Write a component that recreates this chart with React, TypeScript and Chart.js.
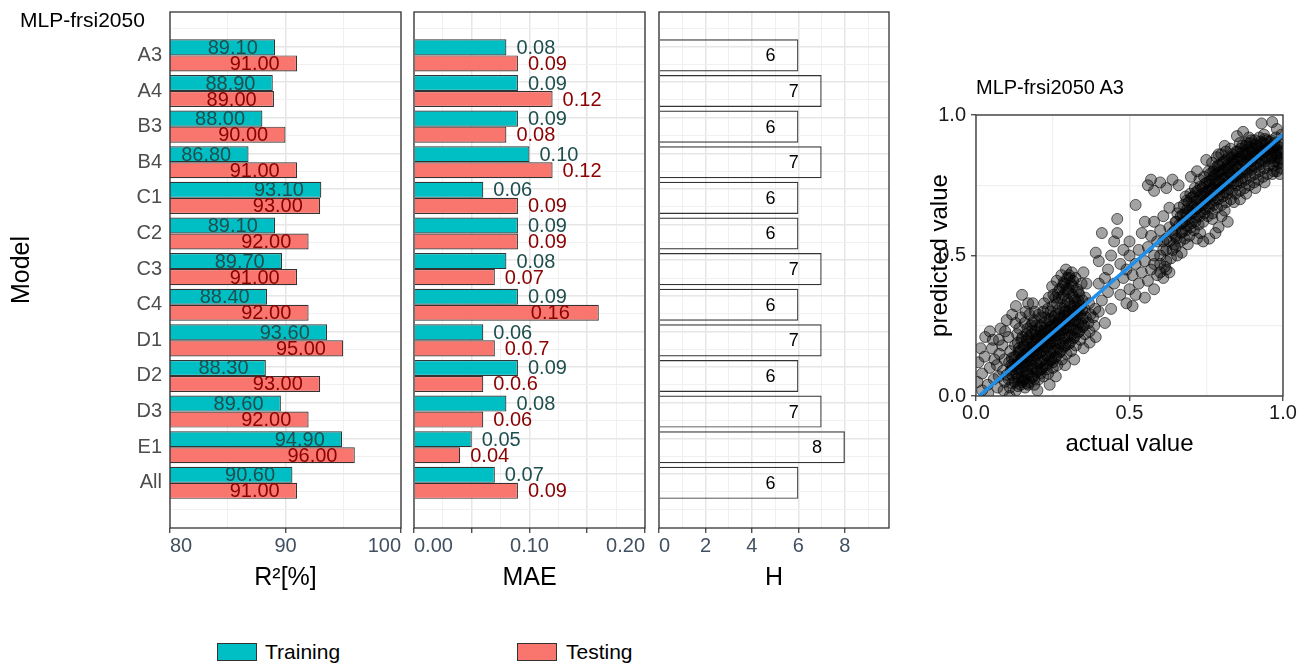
import React, { useEffect, useRef } from "react";
import { Chart, registerables } from "chart.js";

Chart.register(...registerables);

const FONT = "'Liberation Sans', Arial, sans-serif";
Chart.defaults.font.family = FONT;

// ---------------- data ----------------
const models = ["A3", "A4", "B3", "B4", "C1", "C2", "C3", "C4", "D1", "D2", "D3", "E1", "All"];
const r2Training = [89.1, 88.9, 88.0, 86.8, 93.1, 89.1, 89.7, 88.4, 93.6, 88.3, 89.6, 94.9, 90.6];
const r2Testing = [91.0, 89.0, 90.0, 91.0, 93.0, 92.0, 91.0, 92.0, 95.0, 93.0, 92.0, 96.0, 91.0];
const maeTraining = [0.08, 0.09, 0.09, 0.1, 0.06, 0.09, 0.08, 0.09, 0.06, 0.09, 0.08, 0.05, 0.07];
const maeTesting = [0.09, 0.12, 0.08, 0.12, 0.09, 0.09, 0.07, 0.16, 0.07, 0.06, 0.06, 0.04, 0.09];
const maeTrainingLabels = ["0.08", "0.09", "0.09", "0.10", "0.06", "0.09", "0.08", "0.09", "0.06", "0.09", "0.08", "0.05", "0.07"];
const maeTestingLabels = ["0.09", "0.12", "0.08", "0.12", "0.09", "0.09", "0.07", "0.16", "0.0.7", "0.0.6", "0.06", "0.04", "0.09"];
const hValues = [6, 7, 6, 7, 6, 6, 7, 6, 7, 6, 7, 8, 6];

const r2TickValues = [80, 90, 100];
const r2TickLabels = ["80", "90", "100"];
const maeTickValues = [0, 0.1, 0.2];
const maeTickLabels = ["0.00", "0.10", "0.20"];
const hTickValues = [0, 2, 4, 6, 8];
const hTickLabels = ["0", "2", "4", "6", "8"];

const fitActual = [0.01, 1.0];
const fitPredicted = [0.0, 0.93];

// scatter: [actual, predicted]
const lowerCluster = [
  [0.070, 0.03], [0.074, 0.07], [0.068, 0.11], [0.076, 0.15],
  [0.090, 0.02], [0.094, 0.05], [0.088, 0.09], [0.093, 0.13], [0.086, 0.18],
  [0.110, 0.03], [0.106, 0.06], [0.113, 0.09], [0.108, 0.12], [0.112, 0.16], [0.105, 0.21],
  [0.130, 0.02], [0.126, 0.05], [0.133, 0.08], [0.128, 0.11], [0.131, 0.14], [0.127, 0.18], [0.134, 0.22], [0.129, 0.26],
  [0.145, 0.04], [0.149, 0.07], [0.142, 0.10], [0.147, 0.13], [0.143, 0.16], [0.148, 0.20], [0.141, 0.24], [0.146, 0.28],
  [0.160, 0.03], [0.156, 0.06], [0.163, 0.09], [0.158, 0.12], [0.161, 0.15], [0.157, 0.18], [0.164, 0.22], [0.159, 0.26], [0.162, 0.30],
  [0.175, 0.05], [0.171, 0.08], [0.178, 0.11], [0.173, 0.14], [0.176, 0.17], [0.172, 0.21], [0.179, 0.25], [0.174, 0.29],
  [0.190, 0.04], [0.186, 0.07], [0.193, 0.10], [0.188, 0.13], [0.191, 0.16], [0.187, 0.19], [0.194, 0.23], [0.189, 0.27], [0.192, 0.30],
  [0.205, 0.06], [0.201, 0.09], [0.208, 0.12], [0.203, 0.15], [0.206, 0.18], [0.202, 0.21], [0.209, 0.25], [0.204, 0.29],
  [0.220, 0.07], [0.216, 0.10], [0.223, 0.13], [0.218, 0.16], [0.221, 0.19], [0.217, 0.22], [0.224, 0.26], [0.219, 0.30], [0.222, 0.33],
  [0.235, 0.08], [0.231, 0.11], [0.238, 0.14], [0.233, 0.17], [0.236, 0.20], [0.232, 0.23], [0.239, 0.27], [0.234, 0.31], [0.237, 0.35],
  [0.250, 0.10], [0.246, 0.13], [0.253, 0.16], [0.248, 0.19], [0.251, 0.22], [0.247, 0.25], [0.254, 0.28], [0.249, 0.32], [0.252, 0.36], [0.248, 0.39],
  [0.265, 0.11], [0.261, 0.14], [0.268, 0.17], [0.263, 0.20], [0.266, 0.23], [0.262, 0.26], [0.269, 0.29], [0.264, 0.33], [0.267, 0.37], [0.263, 0.41],
  [0.280, 0.13], [0.276, 0.16], [0.283, 0.19], [0.278, 0.22], [0.281, 0.25], [0.277, 0.28], [0.284, 0.31], [0.279, 0.35], [0.282, 0.39], [0.278, 0.43],
  [0.295, 0.15], [0.291, 0.18], [0.298, 0.21], [0.293, 0.24], [0.296, 0.27], [0.292, 0.30], [0.299, 0.34], [0.294, 0.38], [0.297, 0.42], [0.293, 0.45],
  [0.310, 0.16], [0.306, 0.19], [0.313, 0.22], [0.308, 0.25], [0.311, 0.28], [0.307, 0.32], [0.314, 0.36], [0.309, 0.40], [0.312, 0.44],
  [0.325, 0.18], [0.321, 0.21], [0.328, 0.24], [0.323, 0.27], [0.326, 0.30], [0.322, 0.34], [0.329, 0.38], [0.324, 0.42],
  [0.340, 0.20], [0.336, 0.23], [0.343, 0.26], [0.338, 0.29], [0.341, 0.32], [0.337, 0.36], [0.344, 0.40],
  [0.355, 0.22], [0.351, 0.25], [0.358, 0.28], [0.353, 0.31], [0.356, 0.35],
  [0.370, 0.23], [0.366, 0.26], [0.373, 0.29], [0.368, 0.33],
  [0.385, 0.25], [0.381, 0.28], [0.388, 0.31],
  [0.100, 0.075], [0.118, 0.095], [0.136, 0.115], [0.154, 0.105], [0.152, 0.135], [0.170, 0.125], [0.168, 0.155],
  [0.185, 0.145], [0.183, 0.175], [0.200, 0.165], [0.198, 0.195], [0.215, 0.175], [0.213, 0.205], [0.230, 0.19],
  [0.228, 0.22], [0.245, 0.205], [0.243, 0.235], [0.260, 0.215], [0.258, 0.245], [0.275, 0.235], [0.273, 0.265],
  [0.290, 0.255], [0.288, 0.285], [0.305, 0.27], [0.303, 0.30], [0.320, 0.29], [0.318, 0.32], [0.335, 0.31],
  [0.333, 0.34], [0.300, 0.37], [0.315, 0.39], [0.305, 0.42], [0.285, 0.405], [0.270, 0.35], [0.290, 0.32],
  [0.165, 0.20], [0.180, 0.23], [0.195, 0.21], [0.210, 0.23], [0.225, 0.24], [0.140, 0.17], [0.125, 0.14],
  [0.115, 0.11], [0.135, 0.06], [0.150, 0.05], [0.170, 0.04], [0.190, 0.06], [0.210, 0.08], [0.230, 0.095], [0.250, 0.12],
];

const lowerCore = [
  [0.118, 0.045], [0.118, 0.075], [0.120, 0.105], [0.117, 0.135],
  [0.137, 0.035], [0.138, 0.065], [0.136, 0.095], [0.137, 0.125], [0.139, 0.155], [0.136, 0.19],
  [0.152, 0.055], [0.153, 0.085], [0.151, 0.115], [0.152, 0.145], [0.154, 0.175], [0.151, 0.21],
  [0.167, 0.045], [0.168, 0.075], [0.166, 0.105], [0.167, 0.135], [0.169, 0.165], [0.166, 0.195], [0.168, 0.24],
  [0.182, 0.065], [0.183, 0.095], [0.181, 0.125], [0.182, 0.155], [0.184, 0.185], [0.181, 0.22], [0.183, 0.26],
  [0.197, 0.085], [0.198, 0.115], [0.196, 0.145], [0.197, 0.175], [0.199, 0.205], [0.196, 0.25],
  [0.212, 0.095], [0.213, 0.125], [0.211, 0.155], [0.212, 0.185], [0.214, 0.215], [0.211, 0.245], [0.213, 0.28],
  [0.227, 0.115], [0.228, 0.145], [0.226, 0.175], [0.227, 0.205], [0.229, 0.235], [0.226, 0.28],
  [0.242, 0.125], [0.243, 0.155], [0.241, 0.185], [0.242, 0.215], [0.244, 0.245], [0.241, 0.275], [0.243, 0.30],
  [0.257, 0.135], [0.258, 0.165], [0.256, 0.195], [0.257, 0.225], [0.259, 0.255], [0.256, 0.285], [0.258, 0.35],
  [0.272, 0.155], [0.273, 0.185], [0.271, 0.215], [0.272, 0.245], [0.274, 0.275], [0.271, 0.31], [0.273, 0.38],
  [0.287, 0.175], [0.288, 0.205], [0.286, 0.235], [0.287, 0.265], [0.289, 0.30], [0.286, 0.36], [0.288, 0.40],
  [0.302, 0.185], [0.303, 0.215], [0.301, 0.245], [0.302, 0.285], [0.304, 0.33], [0.301, 0.38], [0.303, 0.43],
  [0.317, 0.205], [0.318, 0.235], [0.316, 0.265], [0.317, 0.30], [0.319, 0.35], [0.316, 0.41],
  [0.332, 0.225], [0.333, 0.255], [0.331, 0.285], [0.332, 0.32], [0.334, 0.37],
  [0.347, 0.245], [0.348, 0.275], [0.346, 0.305], [0.347, 0.34],
];

const edgePoints = [
  [0.005, 0.05], [0.008, 0.12], [0.015, 0.17], [0.020, 0.08], [0.028, 0.14], [0.030, 0.21], [0.038, 0.04],
  [0.045, 0.10], [0.045, 0.23], [0.052, 0.17], [0.058, 0.06], [0.060, 0.13], [0.055, 0.20], [0.075, 0.20],
  [0.080, 0.24], [0.095, 0.23], [0.100, 0.27], [0.118, 0.29], [0.130, 0.32], [0.150, 0.36], [0.170, 0.33],
  [0.185, 0.33], [0.020, 0.02], [0.040, 0.01], [0.110, 0.00], [0.200, 0.02], [0.240, 0.04], [0.260, 0.07],
  [0.290, 0.11], [0.320, 0.13], [0.350, 0.17], [0.370, 0.19], [0.390, 0.21], [0.400, 0.30], [0.410, 0.34],
  [0.420, 0.26], [0.430, 0.37], [0.440, 0.31], [0.400, 0.40], [0.420, 0.42], [0.360, 0.40], [0.350, 0.44],
];

const middlePoints = [
  [0.40, 0.48], [0.39, 0.51], [0.41, 0.58], [0.43, 0.45], [0.44, 0.50], [0.45, 0.40], [0.45, 0.55], [0.46, 0.58],
  [0.46, 0.63], [0.47, 0.47], [0.47, 0.36], [0.48, 0.42], [0.48, 0.52], [0.49, 0.33], [0.49, 0.45], [0.50, 0.38],
  [0.50, 0.50], [0.50, 0.55], [0.51, 0.32], [0.51, 0.43], [0.52, 0.47], [0.52, 0.68], [0.52, 0.36], [0.53, 0.40],
  [0.53, 0.52], [0.54, 0.44], [0.54, 0.58], [0.55, 0.35], [0.55, 0.48], [0.55, 0.62], [0.56, 0.41], [0.56, 0.53],
  [0.56, 0.75], [0.57, 0.45], [0.57, 0.57], [0.58, 0.38], [0.58, 0.50], [0.58, 0.62], [0.58, 0.73], [0.59, 0.43],
  [0.59, 0.55], [0.60, 0.47], [0.60, 0.59], [0.60, 0.76], [0.61, 0.42], [0.61, 0.52], [0.61, 0.64], [0.62, 0.48],
  [0.62, 0.56], [0.62, 0.74], [0.63, 0.44], [0.63, 0.60], [0.63, 0.67], [0.64, 0.52], [0.64, 0.77], [0.65, 0.57],
  [0.65, 0.62], [0.66, 0.75], [0.57, 0.77], [0.58, 0.47], [0.60, 0.50], [0.61, 0.55], [0.62, 0.52], [0.63, 0.55],
  [0.64, 0.58], [0.635, 0.49], [0.645, 0.54], [0.655, 0.50], [0.62, 0.45], [0.60, 0.44], [0.615, 0.46],
];

const upperCluster = [
  [0.650, 0.53], [0.654, 0.56], [0.648, 0.59], [0.652, 0.62], [0.656, 0.65],
  [0.665, 0.55], [0.669, 0.58], [0.663, 0.61], [0.667, 0.64], [0.662, 0.67],
  [0.680, 0.56], [0.684, 0.59], [0.678, 0.62], [0.682, 0.65], [0.677, 0.68], [0.683, 0.71],
  [0.695, 0.57], [0.699, 0.60], [0.693, 0.63], [0.697, 0.66], [0.692, 0.69], [0.698, 0.72],
  [0.710, 0.59], [0.714, 0.62], [0.708, 0.65], [0.712, 0.68], [0.707, 0.71], [0.713, 0.74],
  [0.725, 0.61], [0.729, 0.64], [0.723, 0.67], [0.727, 0.70], [0.722, 0.73], [0.728, 0.77],
  [0.740, 0.62], [0.744, 0.65], [0.738, 0.68], [0.742, 0.71], [0.737, 0.74], [0.743, 0.78],
  [0.755, 0.64], [0.759, 0.67], [0.753, 0.70], [0.757, 0.73], [0.752, 0.76], [0.758, 0.80],
  [0.770, 0.65], [0.774, 0.68], [0.768, 0.71], [0.772, 0.74], [0.767, 0.77], [0.773, 0.80], [0.769, 0.83],
  [0.785, 0.67], [0.789, 0.70], [0.783, 0.73], [0.787, 0.76], [0.782, 0.79], [0.788, 0.82], [0.784, 0.85],
  [0.800, 0.68], [0.804, 0.71], [0.798, 0.74], [0.802, 0.77], [0.797, 0.80], [0.803, 0.83], [0.799, 0.86],
  [0.815, 0.69], [0.819, 0.72], [0.813, 0.75], [0.817, 0.78], [0.812, 0.81], [0.818, 0.84], [0.814, 0.87],
  [0.830, 0.70], [0.834, 0.73], [0.828, 0.76], [0.832, 0.79], [0.827, 0.82], [0.833, 0.85], [0.829, 0.88],
  [0.845, 0.72], [0.849, 0.75], [0.843, 0.78], [0.847, 0.81], [0.842, 0.84], [0.848, 0.87],
  [0.860, 0.73], [0.864, 0.76], [0.858, 0.79], [0.862, 0.82], [0.857, 0.85], [0.863, 0.88], [0.859, 0.90],
  [0.875, 0.74], [0.879, 0.77], [0.873, 0.80], [0.877, 0.83], [0.872, 0.86], [0.878, 0.89],
  [0.890, 0.75], [0.894, 0.78], [0.888, 0.81], [0.892, 0.84], [0.887, 0.87], [0.893, 0.90], [0.889, 0.92],
  [0.905, 0.76], [0.909, 0.79], [0.903, 0.82], [0.907, 0.85], [0.902, 0.88], [0.908, 0.91],
  [0.920, 0.77], [0.924, 0.80], [0.918, 0.83], [0.922, 0.86], [0.917, 0.89], [0.923, 0.92],
  [0.935, 0.78], [0.939, 0.81], [0.933, 0.84], [0.937, 0.87], [0.932, 0.90], [0.938, 0.93],
  [0.950, 0.79], [0.954, 0.82], [0.948, 0.85], [0.952, 0.88], [0.947, 0.91],
  [0.965, 0.79], [0.969, 0.82], [0.963, 0.85], [0.967, 0.88], [0.962, 0.91],
  [0.980, 0.80], [0.984, 0.83], [0.978, 0.86], [0.982, 0.89], [0.977, 0.92],
  [0.995, 0.81], [0.991, 0.84], [0.996, 0.87], [0.992, 0.90],
  [0.672, 0.615], [0.687, 0.64], [0.702, 0.65], [0.717, 0.665], [0.732, 0.68], [0.747, 0.695], [0.762, 0.71],
  [0.777, 0.725], [0.792, 0.735], [0.807, 0.75], [0.822, 0.765], [0.837, 0.78], [0.852, 0.79], [0.867, 0.805],
  [0.882, 0.82], [0.897, 0.835], [0.912, 0.845], [0.927, 0.86], [0.942, 0.875], [0.957, 0.885], [0.972, 0.90],
  [0.987, 0.875], [0.740, 0.72], [0.760, 0.75], [0.780, 0.77], [0.800, 0.79], [0.820, 0.81], [0.840, 0.83],
  [0.860, 0.845], [0.880, 0.86], [0.900, 0.87], [0.920, 0.88], [0.940, 0.85], [0.960, 0.86], [0.980, 0.85],
  [0.990, 0.83], [0.970, 0.80],
  [0.930, 0.97], [0.965, 0.975], [0.870, 0.94], [0.850, 0.925], [0.790, 0.86], [0.810, 0.89], [0.750, 0.84],
  [0.700, 0.78], [0.720, 0.80], [0.980, 0.95], [0.995, 0.93], [0.840, 0.69], [0.860, 0.70], [0.880, 0.72],
  [0.810, 0.66], [0.770, 0.63], [0.730, 0.58], [0.690, 0.54], [0.670, 0.51], [0.910, 0.74], [0.940, 0.76],
  [0.990, 0.79], [0.800, 0.64], [0.760, 0.56], [0.740, 0.55], [0.780, 0.58], [0.720, 0.56], [0.820, 0.62], [0.790, 0.60],
];

const upperCore = [
  [0.672, 0.585], [0.673, 0.645],
  [0.687, 0.605], [0.688, 0.665], [0.686, 0.695],
  [0.702, 0.615], [0.703, 0.675], [0.701, 0.705],
  [0.717, 0.635], [0.718, 0.695], [0.716, 0.725],
  [0.732, 0.655], [0.733, 0.715], [0.731, 0.745],
  [0.747, 0.665], [0.748, 0.725], [0.746, 0.755],
  [0.762, 0.685], [0.763, 0.735], [0.761, 0.765], [0.762, 0.79],
  [0.777, 0.695], [0.778, 0.755], [0.776, 0.785], [0.777, 0.81],
  [0.792, 0.715], [0.793, 0.765], [0.791, 0.795], [0.792, 0.82],
  [0.807, 0.725], [0.808, 0.775], [0.806, 0.805], [0.807, 0.835],
  [0.822, 0.735], [0.823, 0.795], [0.821, 0.825], [0.822, 0.85],
  [0.837, 0.755], [0.838, 0.805], [0.836, 0.835], [0.837, 0.86],
  [0.852, 0.765], [0.853, 0.815], [0.851, 0.845], [0.852, 0.87],
  [0.867, 0.775], [0.868, 0.835], [0.866, 0.865], [0.867, 0.89],
  [0.882, 0.795], [0.883, 0.845], [0.881, 0.875], [0.882, 0.90],
  [0.897, 0.805], [0.898, 0.855], [0.896, 0.885], [0.897, 0.91],
  [0.912, 0.815], [0.913, 0.865], [0.911, 0.895],
  [0.927, 0.825], [0.928, 0.875], [0.926, 0.905],
  [0.942, 0.835], [0.943, 0.895], [0.941, 0.915],
  [0.957, 0.845], [0.958, 0.875], [0.956, 0.905],
  [0.972, 0.835], [0.973, 0.865], [0.971, 0.885],
  [0.990, 0.845], [0.989, 0.865], [0.991, 0.885],
];

// ---------------- styling ----------------
const TRAIN_FILL = "#00BFC4";
const TEST_FILL = "#F8766D";
const TRAIN_TEXT = "#1F4E4E";
const TEST_TEXT = "#8B0000";
const BAR_EDGE = "#333333";
const GRID_MAJOR = "#E6E6E6";
const GRID_MINOR = "#F0F0F0";
const AXIS_TICK_TEXT = "#405060";

const isMajorOf = (step: number) => (v: number) => Math.abs(v / step - Math.round(v / step)) < 1e-6;

const panelBorder = {
  id: "panelBorder",
  afterDatasetsDraw(chart: any) {
    const { ctx, chartArea: a } = chart;
    ctx.save();
    ctx.strokeStyle = "#333333";
    ctx.lineWidth = 1.3;
    ctx.strokeRect(a.left, a.top, a.right - a.left, a.bottom - a.top);
    ctx.restore();
  },
};

function edgeTickLabels(values: number[], labels: string[]) {
  return {
    id: "edgeTickLabels",
    afterDraw(chart: any) {
      const { ctx, chartArea: a } = chart;
      const xs = chart.scales.x;
      ctx.save();
      ctx.font = `20px ${FONT}`;
      ctx.fillStyle = AXIS_TICK_TEXT;
      ctx.textBaseline = "middle";
      values.forEach((v, i) => {
        const px = xs.getPixelForValue(v);
        const w = ctx.measureText(labels[i]).width;
        let align = "center";
        if (px - w / 2 < a.left - 0.5) align = "left";
        else if (px + w / 2 > a.right + 0.5) align = "right";
        ctx.textAlign = align;
        ctx.fillText(labels[i], px, a.bottom + 18);
      });
      ctx.restore();
    },
  };
}

const zeroPad = (s: any) => {
  s.paddingLeft = 0;
  s.paddingRight = 0;
  s.paddingTop = 0;
  s.paddingBottom = 0;
};

const categoryGridValues = Array.from({ length: models.length * 2 + 1 }, (_, i) => -0.5 + i * 0.5);

function modelAxis(showLabels: boolean) {
  return {
    type: "linear",
    reverse: true,
    min: -0.95,
    max: 13,
    afterBuildTicks: (s: any) => {
      s.ticks = categoryGridValues.map((v) => ({ value: v }));
    },
    afterFit: (s: any) => {
      s.width = showLabels ? 170 : 0;
      zeroPad(s);
    },
    ticks: {
      display: showLabels,
      autoSkip: false,
      padding: 8,
      color: "#4D4D4D",
      font: { size: 20, family: FONT },
      callback: (v: number) => (Number.isInteger(v) && models[v] ? models[v] : ""),
    },
    grid: {
      drawTicks: false,
      color: (c: any) => (Number.isInteger(c.tick?.value) ? GRID_MAJOR : GRID_MINOR),
      lineWidth: (c: any) => (Number.isInteger(c.tick?.value) ? 1.5 : 1),
    },
    border: { display: false },
    title: {
      display: showLabels,
      text: "Model",
      color: "#000000",
      font: { size: 25, family: FONT },
      padding: { top: 7, bottom: 0 },
    },
  };
}

function valueAxis(min: number, max: number, gridValues: number[], majorStep: number, title: string) {
  const isMajor = isMajorOf(majorStep);
  return {
    type: "linear",
    min,
    max,
    afterBuildTicks: (s: any) => {
      s.ticks = gridValues.map((v) => ({ value: v }));
    },
    afterFit: (s: any) => {
      s.height = 72;
      zeroPad(s);
    },
    ticks: { display: false },
    grid: {
      color: (c: any) => (isMajor(c.tick?.value ?? 0) ? GRID_MAJOR : GRID_MINOR),
      lineWidth: (c: any) => (isMajor(c.tick?.value ?? 0) ? 1.5 : 1),
      tickColor: (c: any) => (isMajor(c.tick?.value ?? 0) ? "#333333" : "rgba(0,0,0,0)"),
      tickLength: 5,
      tickWidth: 1.2,
    },
    border: { display: false },
    title: {
      display: true,
      text: title,
      color: "#000000",
      font: { size: 25, family: FONT },
      padding: { top: 0, bottom: 7 },
    },
  };
}

const basePlugins = { legend: { display: false }, tooltip: { enabled: false } };

// the model axis carries grid ticks every half category, so Chart.js measures
// slot width on 0.5 units; 1.8 of that slot equals 90% of one category
const BAR_GROUP_SHARE = 1.8;

function r2Config() {
  const labels = {
    id: "r2Labels",
    afterDatasetsDraw(chart: any) {
      const { ctx } = chart;
      const xs = chart.scales.x;
      ctx.save();
      ctx.font = `20px ${FONT}`;
      ctx.textAlign = "right";
      ctx.textBaseline = "middle";
      [r2Training, r2Testing].forEach((vals, di) => {
        ctx.fillStyle = di === 0 ? TRAIN_TEXT : TEST_TEXT;
        chart.getDatasetMeta(di).data.forEach((bar: any, j: number) => {
          ctx.fillText(vals[j].toFixed(2), xs.getPixelForValue(vals[j] - 1.5), bar.y + 1);
        });
      });
      ctx.restore();
    },
  };
  return {
    type: "bar",
    data: {
      datasets: [
        { label: "Training", data: r2Training.map((v, i) => ({ x: v, y: i })), backgroundColor: TRAIN_FILL, borderColor: BAR_EDGE, borderWidth: 1.2 },
        { label: "Testing", data: r2Testing.map((v, i) => ({ x: v, y: i })), backgroundColor: TEST_FILL, borderColor: BAR_EDGE, borderWidth: 1.2 },
      ],
    },
    options: {
      indexAxis: "y",
      animation: false,
      responsive: true,
      maintainAspectRatio: false,
      events: [],
      categoryPercentage: BAR_GROUP_SHARE,
      barPercentage: 1.0,
      layout: { padding: { top: 12, right: 4, left: 0, bottom: 0 } },
      scales: {
        x: valueAxis(80, 100, [80, 85, 90, 95, 100], 10, "R²[%]"),
        y: modelAxis(true),
      },
      plugins: basePlugins,
    },
    plugins: [panelBorder, labels, edgeTickLabels(r2TickValues, r2TickLabels)],
  };
}

function maeConfig() {
  const labels = {
    id: "maeLabels",
    afterDatasetsDraw(chart: any) {
      const { ctx, chartArea: a } = chart;
      ctx.save();
      ctx.font = `20px ${FONT}`;
      ctx.textBaseline = "middle";
      [maeTrainingLabels, maeTestingLabels].forEach((texts, di) => {
        ctx.fillStyle = di === 0 ? TRAIN_TEXT : TEST_TEXT;
        chart.getDatasetMeta(di).data.forEach((bar: any, j: number) => {
          const w = ctx.measureText(texts[j]).width;
          if (bar.x + 10 + w > a.right) {
            ctx.textAlign = "right";
            ctx.fillText(texts[j], bar.x - 29, bar.y + 1);
          } else {
            ctx.textAlign = "left";
            ctx.fillText(texts[j], bar.x + 10, bar.y + 1);
          }
        });
      });
      ctx.restore();
    },
  };
  return {
    type: "bar",
    data: {
      datasets: [
        { label: "Training", data: maeTraining.map((v, i) => ({ x: v, y: i })), backgroundColor: TRAIN_FILL, borderColor: BAR_EDGE, borderWidth: 1.2 },
        { label: "Testing", data: maeTesting.map((v, i) => ({ x: v, y: i })), backgroundColor: TEST_FILL, borderColor: BAR_EDGE, borderWidth: 1.2 },
      ],
    },
    options: {
      indexAxis: "y",
      animation: false,
      responsive: true,
      maintainAspectRatio: false,
      events: [],
      categoryPercentage: BAR_GROUP_SHARE,
      barPercentage: 1.0,
      layout: { padding: { top: 12, right: 5, left: 9, bottom: 0 } },
      scales: {
        x: valueAxis(0, 0.2, [0, 0.025, 0.05, 0.075, 0.1, 0.125, 0.15, 0.175, 0.2], 0.05, "MAE"),
        y: modelAxis(false),
      },
      plugins: basePlugins,
    },
    plugins: [panelBorder, labels, edgeTickLabels(maeTickValues, maeTickLabels)],
  };
}

function hConfig() {
  const labels = {
    id: "hLabels",
    afterDatasetsDraw(chart: any) {
      const { ctx } = chart;
      const xs = chart.scales.x;
      ctx.save();
      ctx.font = `18px ${FONT}`;
      ctx.textAlign = "center";
      ctx.textBaseline = "middle";
      ctx.fillStyle = "#000000";
      chart.getDatasetMeta(0).data.forEach((bar: any, j: number) => {
        ctx.fillText(String(hValues[j]), xs.getPixelForValue(hValues[j] - 1.2), bar.y + 1);
      });
      ctx.restore();
    },
  };
  return {
    type: "bar",
    data: {
      datasets: [
        { label: "H", data: hValues.map((v, i) => ({ x: v, y: i })), backgroundColor: "rgba(0,0,0,0)", borderColor: BAR_EDGE, borderWidth: 1.2 },
      ],
    },
    options: {
      indexAxis: "y",
      animation: false,
      responsive: true,
      maintainAspectRatio: false,
      events: [],
      categoryPercentage: BAR_GROUP_SHARE,
      barPercentage: 1.0,
      layout: { padding: { top: 12, right: 11, left: 9, bottom: 0 } },
      scales: {
        x: valueAxis(0, 9.9, [0, 1, 2, 3, 4, 5, 6, 7, 8, 9], 2, "H"),
        y: modelAxis(false),
      },
      plugins: basePlugins,
    },
    plugins: [panelBorder, labels, edgeTickLabels(hTickValues, hTickLabels)],
  };
}

function scatterAxis(axis: "x" | "y", title: string) {
  const isMajor = isMajorOf(0.5);
  return {
    type: "linear",
    min: 0,
    max: 1,
    afterBuildTicks: (s: any) => {
      s.ticks = [0, 0.25, 0.5, 0.75, 1].map((v) => ({ value: v }));
    },
    afterFit: (s: any) => {
      if (axis === "x") s.height = 84;
      else s.width = 76;
      zeroPad(s);
    },
    ticks: {
      autoSkip: false,
      maxRotation: 0,
      padding: axis === "x" ? 0 : 5,
      color: "#1A1A1A",
      font: { size: 20, family: FONT },
      callback: (v: number) => (isMajor(v) ? v.toFixed(1) : ""),
    },
    grid: {
      color: (c: any) => (isMajor(c.tick?.value ?? 0) ? GRID_MAJOR : GRID_MINOR),
      lineWidth: (c: any) => (isMajor(c.tick?.value ?? 0) ? 1.5 : 1.2),
      tickColor: (c: any) => (isMajor(c.tick?.value ?? 0) ? "#333333" : "rgba(0,0,0,0)"),
      tickLength: 5,
      tickWidth: 1.2,
    },
    border: { display: false },
    title: {
      display: true,
      text: title,
      color: "#000000",
      font: { size: 24, family: FONT },
      padding: axis === "x" ? { top: 0, bottom: 21 } : { top: 26, bottom: 0 },
    },
  };
}

function scatterConfig() {
  const points = [...edgePoints, ...lowerCluster, ...lowerCore, ...middlePoints, ...upperCluster, ...upperCore];
  return {
    type: "scatter",
    data: {
      datasets: [
        {
          label: "fit",
          data: fitActual.map((x, i) => ({ x, y: fitPredicted[i] })),
          showLine: true,
          borderColor: "#1E8FEA",
          borderWidth: 3.5,
          pointRadius: 0,
          order: 0,
        },
        {
          label: "observations",
          data: points.map(([x, y]) => ({ x, y })),
          pointRadius: 5.5,
          backgroundColor: "rgba(0,0,0,0.36)",
          borderColor: "rgba(0,0,0,0.6)",
          borderWidth: 1,
          order: 1,
        },
      ],
    },
    options: {
      animation: false,
      responsive: true,
      maintainAspectRatio: false,
      events: [],
      layout: { padding: { top: 55, right: 47, left: 0, bottom: 0 } },
      scales: {
        x: scatterAxis("x", "actual value"),
        y: scatterAxis("y", "predicted value"),
      },
      plugins: basePlugins,
    },
    plugins: [panelBorder],
  };
}

function ChartBox({ left, top, width, height, config }: any) {
  const ref = useRef<HTMLCanvasElement | null>(null);
  useEffect(() => {
    const chart = new Chart(ref.current as HTMLCanvasElement, config() as any);
    return () => chart.destroy();
  }, []);
  return (
    <div style={{ position: "absolute", left, top, width, height }}>
      <canvas ref={ref} />
    </div>
  );
}

const textStyle = { position: "absolute" as const, fontFamily: FONT, color: "#000", whiteSpace: "nowrap" as const };

export default function App() {
  return (
    <div style={{ position: "absolute", left: 0, top: 0, width: 1304, height: 665, overflow: "hidden", background: "#fff" }}>
      <ChartBox left={0} top={0} width={405} height={600} config={r2Config} />
      <ChartBox left={405} top={0} width={245} height={600} config={maeConfig} />
      <ChartBox left={650} top={0} width={250} height={600} config={hConfig} />
      <ChartBox left={900} top={60} width={430} height={420} config={scatterConfig} />
      <div style={{ ...textStyle, left: 20, top: 8, fontSize: 21, lineHeight: "24px" }}>MLP-frsi2050</div>
      <div style={{ ...textStyle, left: 976, top: 75, fontSize: 20, lineHeight: "24px" }}>MLP-frsi2050 A3</div>
      <div style={{ position: "absolute", left: 217, top: 643, width: 38, height: 16, background: TRAIN_FILL, border: "1px solid #333" }} />
      <div style={{ ...textStyle, left: 265, top: 640, fontSize: 21, lineHeight: "24px" }}>Training</div>
      <div style={{ position: "absolute", left: 517, top: 643, width: 38, height: 16, background: TEST_FILL, border: "1px solid #333" }} />
      <div style={{ ...textStyle, left: 566, top: 640, fontSize: 21, lineHeight: "24px" }}>Testing</div>
    </div>
  );
}
